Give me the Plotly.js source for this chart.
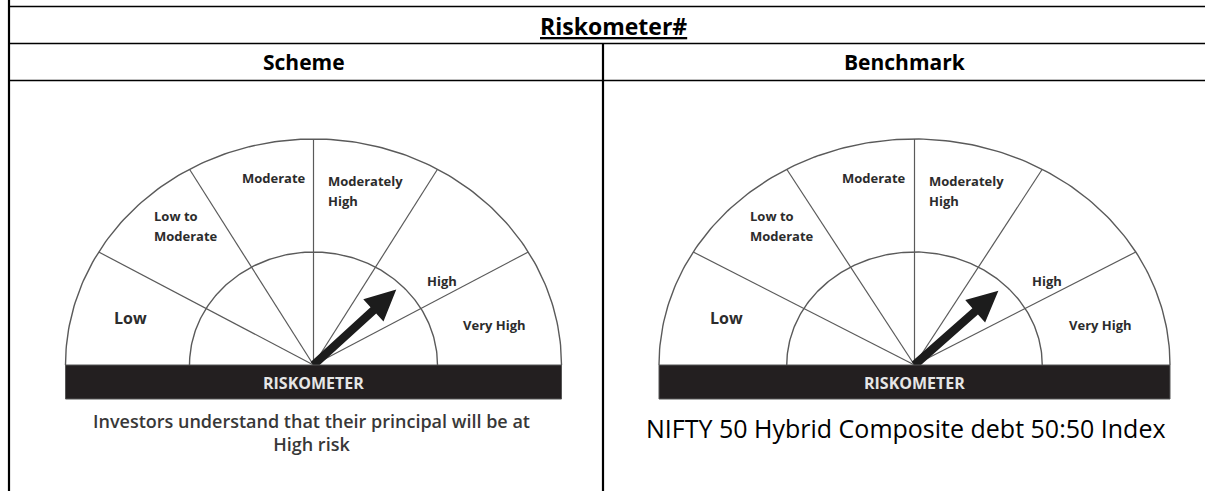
<!DOCTYPE html>
<html><head><meta charset="utf-8">
<script src="https://cdn.plot.ly/plotly-3.0.1.min.js"></script>
<style>html,body{margin:0;padding:0;background:#fff;overflow:hidden}#chart{width:1205px;height:491px}</style>
</head><body><div id="chart"></div>
<script>
// ---- data ----
const tableTitle = 'Riskometer#';
const columnHeaders = ['Scheme', 'Benchmark'];
const riskLevels = ['Low', 'Low to<br>Moderate', 'Moderate', 'Moderately<br>High', 'High', 'Very High'];
const gaugeRisk = ['High', 'High'];
const gaugeCaptions = ['Investors understand that their principal will be at<br>High risk',
                       'NIFTY 50 Hybrid Composite debt 50:50 Index'];
const dialLabel = 'RISKOMETER';

// ---- geometry / style ----
const W = 1205, H = 491;
const gaugeGeom = [{cx: 313.5, cy: 365, rx: 248, ry: 226}, {cx: 914.5, cy: 365, rx: 255.5, ry: 226}];
const labelPos = [
  {x: -0.737, y: 0.208, size: 16, anchor: 'center'},
  {x: -0.65, y: 0.615, size: 13, anchor: 'left'},
  {x: -0.16, y: 0.827, size: 13, anchor: 'center'},
  {x: 0.05, y: 0.77, size: 13, anchor: 'left'},
  {x: 0.52, y: 0.372, size: 13, anchor: 'center'},
  {x: 0.729, y: 0.177, size: 13, anchor: 'center'}
];
const captionStyle = [
  {x: 311, y: 432, size: 18, color: '#383838', family: 'Open Sans', weight: 600},
  {x: 906, y: 428, size: 25, color: '#000', family: 'Open Sans', weight: 400}
];
const lineColor = '#5a5a5a';
const hdrFont = {family: 'Open Sans', size: 21, color: '#000', weight: 700};
const titleFont = {family: 'Open Sans', size: 23, color: '#000', weight: 700};
const labelFont = 'Open Sans';

const traces = [];
const shapes = [];
const annotations = [];

// table lines
function seg(x0, y0, x1, y1, w) {
  shapes.push({type: 'line', xref: 'x', yref: 'y', x0, y0, x1, y1, line: {color: '#000', width: w}});
}
seg(9, 0, 9, H, 2.2);
seg(8, 6.5, W + 5, 6.5, 1.6);
seg(8, 43.5, W + 5, 43.5, 1.6);
seg(8, 80.5, W + 5, 80.5, 1.6);
seg(603, 43.5, 603, H, 2.2);

annotations.push({x: 613, y: 26, xref: 'x', yref: 'y', text: '<u>' + tableTitle + '</u>', showarrow: false,
  font: titleFont, xanchor: 'center', yanchor: 'middle'});
const hdrX = [304, 905];
columnHeaders.forEach((h, i) => annotations.push({x: hdrX[i], y: 62, xref: 'x', yref: 'y', text: h,
  showarrow: false, font: hdrFont, xanchor: 'center', yanchor: 'middle'}));

const n = riskLevels.length;
gaugeGeom.forEach((g, gi) => {
  const P = (u, v) => [g.cx + u * g.rx, g.cy - v * g.ry];
  function arc(r) {
    const xs = [], ys = [];
    for (let k = 0; k <= 180; k++) {
      const t = Math.PI * k / 180;
      const p = P(r * Math.cos(t), r * Math.sin(t));
      xs.push(p[0]); ys.push(p[1]);
    }
    traces.push({x: xs, y: ys, mode: 'lines', line: {color: lineColor, width: 1.4}, hoverinfo: 'skip', showlegend: false});
  }
  arc(1); arc(0.5);
  for (let k = 1; k < n; k++) {
    const t = Math.PI - k * Math.PI / n;
    const p = P(Math.cos(t), Math.sin(t));
    traces.push({x: [g.cx, p[0]], y: [g.cy, p[1]], mode: 'lines', line: {color: lineColor, width: 1.2},
      hoverinfo: 'skip', showlegend: false});
  }
  // labels
  riskLevels.forEach((lab, i) => {
    const lp = labelPos[i];
    const lines = lab.split('<br>');
    const c = P(lp.x, lp.y);
    lines.forEach((ln, j) => {
      const yy = c[1] + (j - (lines.length - 1) / 2) * 19.5;
      annotations.push({x: c[0], y: yy, xref: 'x', yref: 'y', text: ln, showarrow: false,
        xanchor: lp.anchor, yanchor: 'middle',
        font: {family: labelFont, size: lp.size, color: '#2c2c2c', weight: 700}});
    });
  });
  // bar
  shapes.push({type: 'rect', xref: 'x', yref: 'y', x0: g.cx - g.rx, x1: g.cx + g.rx, y0: g.cy, y1: g.cy + 34,
    fillcolor: '#231f20', line: {color: '#555', width: 1}, layer: 'above'});
  annotations.push({x: g.cx, y: g.cy + 17.5, xref: 'x', yref: 'y', text: dialLabel, showarrow: false,
    xanchor: 'center', yanchor: 'middle', font: {family: labelFont, size: 16, color: '#e6e6e6', weight: 700}});
  // arrow pointing to risk level
  const idx = riskLevels.map(s => s.replace('<br>', ' ')).indexOf(gaugeRisk[gi]);
  const th = Math.PI - (idx + 0.5) * Math.PI / n;
  let dx = Math.cos(th) * g.rx, dy = -Math.sin(th) * g.ry;
  const len = Math.hypot(dx, dy); dx /= len; dy /= len;
  const nx = -dy, ny = dx;
  const L = 112, HL = 31, HW = 15, SW = 4.2;
  const tip = [g.cx + dx * L, g.cy + dy * L];
  const base = [g.cx + dx * (L - HL), g.cy + dy * (L - HL)];
  const pts = [
    [g.cx + nx * SW, g.cy + ny * SW], [base[0] + nx * SW, base[1] + ny * SW],
    [base[0] + nx * HW, base[1] + ny * HW], tip,
    [base[0] - nx * HW, base[1] - ny * HW], [base[0] - nx * SW, base[1] - ny * SW],
    [g.cx - nx * SW, g.cy - ny * SW]
  ];
  traces.push({x: pts.map(p => p[0]), y: pts.map(p => p[1]), mode: 'lines', fill: 'toself',
    fillcolor: '#1c1c1c', line: {width: 0, color: '#1c1c1c'}, hoverinfo: 'skip', showlegend: false});
  // caption
  const cs = captionStyle[gi];
  annotations.push({x: cs.x, y: cs.y, xref: 'x', yref: 'y', text: gaugeCaptions[gi], showarrow: false,
    xanchor: 'center', yanchor: 'middle', align: 'center',
    font: {family: cs.family, size: cs.size, color: cs.color, weight: cs.weight}});
});

const layout = {
  width: W, height: H, autosize: false,
  margin: {l: 0, r: 0, t: 0, b: 0, pad: 0},
  paper_bgcolor: '#fff', plot_bgcolor: '#fff',
  xaxis: {range: [0, W], visible: false, fixedrange: true},
  yaxis: {range: [H, 0], visible: false, fixedrange: true},
  shapes, annotations, showlegend: false
};
Plotly.newPlot('chart', traces, layout, {displayModeBar: false, staticPlot: true});
</script></body></html>
